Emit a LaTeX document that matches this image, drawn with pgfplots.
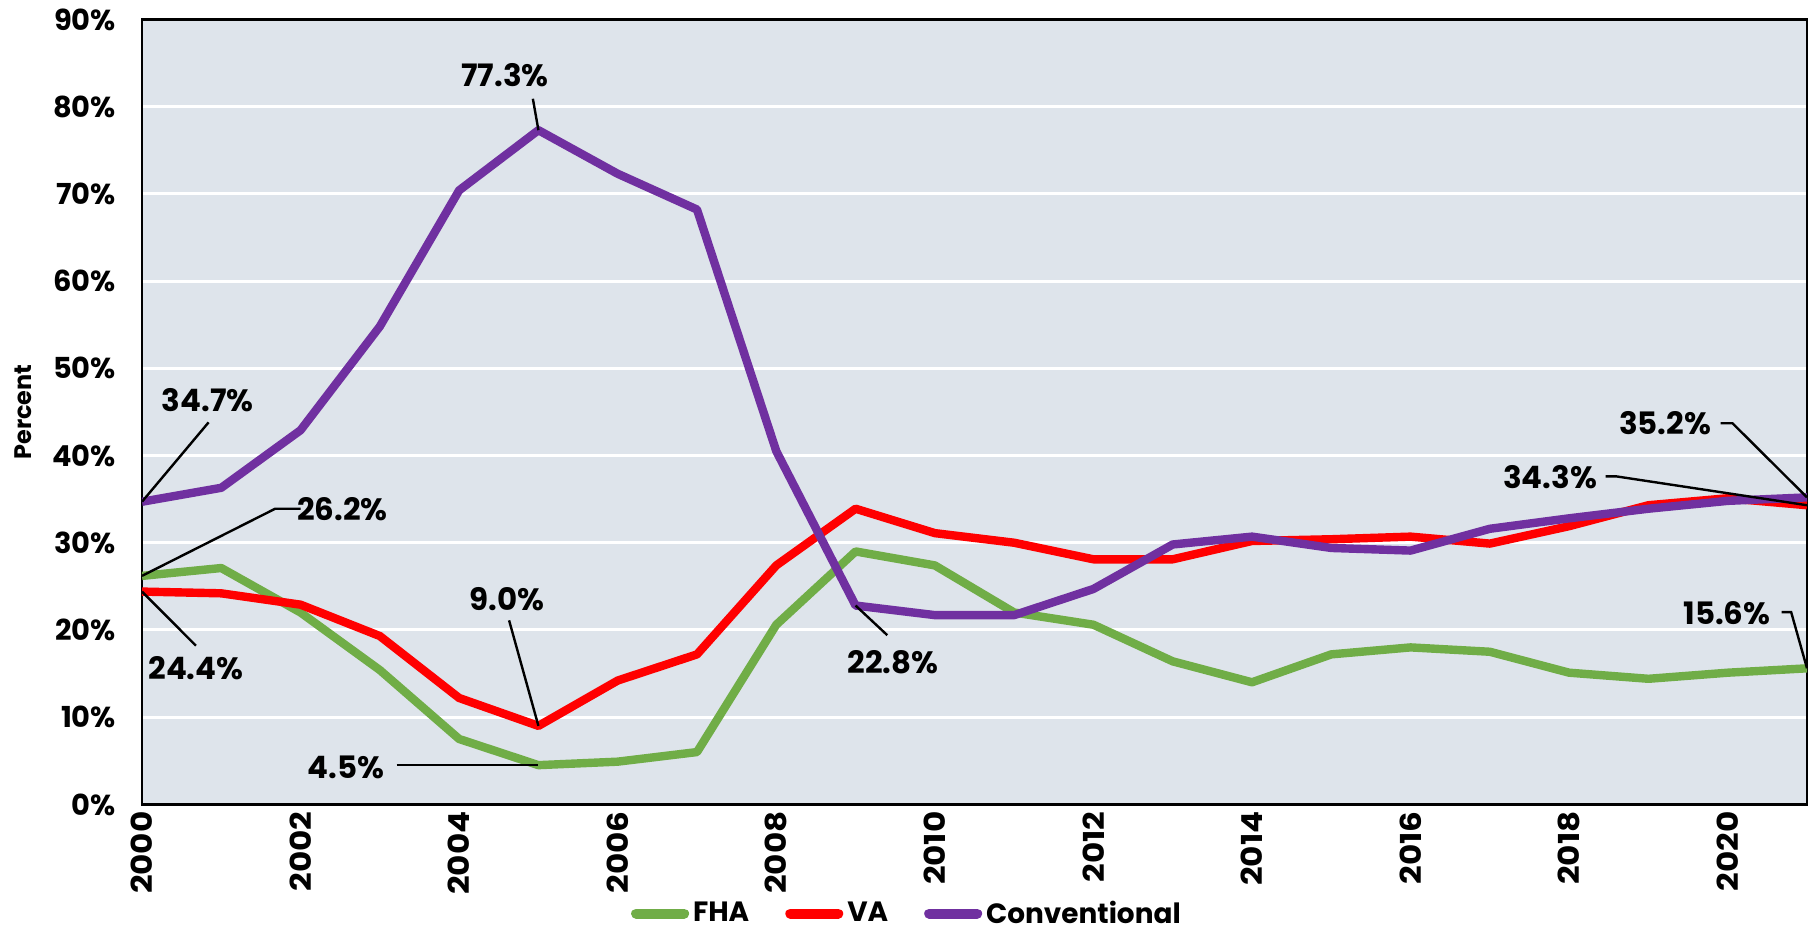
\documentclass[border=0pt]{standalone}
\usepackage{pgfplots}
\pgfplotsset{compat=1.18}
\usepackage{pgfplotstable}
\usepackage{fontspec}
\setmainfont{Poppins}
\newfontfamily\widefont[FakeStretch=1.13]{Poppins}

\definecolor{bg}{RGB}{222,228,235}
\definecolor{fha}{RGB}{112,173,71}
\definecolor{va}{RGB}{255,0,0}
\definecolor{conv}{RGB}{112,48,160}

\tikzset{
  ann/.style={font=\bfseries\fontsize{15.5}{15.5}\selectfont, inner sep=0pt},
  leader/.style={black, line width=1.2bp},
}

\pgfplotstableread{
year fha va conv
2000 26.2 24.4 34.7
2001 27.1 24.2 36.3
2002 22.0 22.9 42.9
2003 15.4 19.3 54.8
2004 7.5 12.2 70.4
2005 4.5 9.0 77.3
2006 4.9 14.2 72.3
2007 6.0 17.2 68.2
2008 20.6 27.4 40.5
2009 29.0 33.9 22.8
2010 27.4 31.1 21.7
2011 22.0 30.0 21.7
2012 20.6 28.1 24.7
2013 16.4 28.1 29.8
2014 14.0 30.2 30.7
2015 17.2 30.4 29.4
2016 18.0 30.7 29.1
2017 17.5 29.9 31.6
2018 15.1 31.9 32.8
2019 14.4 34.3 33.9
2020 15.1 35.1 34.8
2021 15.6 34.3 35.2
}\data

\begin{document}
\begin{tikzpicture}
\useasboundingbox (-71bp,-64bp) rectangle (835.5bp,402.2bp);
\begin{axis}[
  scale only axis, width=832.5bp, height=392.5bp,
  xmin=2000, xmax=2021, ymin=0, ymax=90,
  xtick={2000,2002,2004,2006,2008,2010,2012,2014,2016,2018,2020},
  xticklabels={2000,2002,2004,2006,2008,2010,2012,2014,2016,2018,2020},
  ytick={0,10,20,30,40,50,60,70,80,90},
  yticklabels={0\%,10\%,20\%,30\%,40\%,50\%,60\%,70\%,80\%,90\%},
  major tick length=0pt,
  ymajorgrids, grid style={white, line width=1.5bp},
  axis background/.style={fill=bg},
  axis line style={black, line width=1.2bp},
  tick label style={font=\bfseries\fontsize{14.5}{14.5}\selectfont},
  xticklabel style={rotate=90, anchor=east, font=\widefont\bfseries\fontsize{14.5}{14.5}\selectfont},
  yticklabel style={xshift=-9.5bp},
  ylabel={Percent},
  ylabel style={font=\bfseries\fontsize{12}{12}\selectfont, at={(axis description cs:-0.0715,0.5)}, anchor=center},
  legend style={at={(axis description cs:0.46,-0.139)}, anchor=center, draw=none, fill=none,
    legend columns=3, font=\bfseries\fontsize{14}{14}\selectfont, inner sep=1pt,
    /tikz/every even column/.append style={column sep=16bp}},
  legend image code/.code={\draw[#1, line width=5bp, line cap=round] (0bp,0bp) -- (24bp,0bp);},
]
\addplot[fha, line width=4.2bp, line join=round, mark=none] table[x=year,y=fha]{\data};
\addlegendentry{FHA}
\addplot[va, line width=4.2bp, line join=round, mark=none] table[x=year,y=va]{\data};
\addlegendentry{VA}
\addplot[conv, line width=4.2bp, line join=round, mark=none] table[x=year,y=conv]{\data};
\addlegendentry{Conventional}

\node[ann] at (axis cs:2004.58,83.6) {77.3\%};
\draw[leader] (axis cs:2004.93,80.9) -- (axis cs:2005,77.3);

\node[ann] at (axis cs:2000.83,46.3) {34.7\%};
\draw[leader] (axis cs:2000.84,43.8) -- (axis cs:2000,34.7);

\node[ann] at (axis cs:2002.53,33.8) {26.2\%};
\draw[leader] (axis cs:2002.0,33.9) -- (axis cs:2001.68,33.9) -- (axis cs:2000,26.2);

\node[ann] at (axis cs:2000.68,15.6) {24.4\%};
\draw[leader] (axis cs:2000.68,18.2) -- (axis cs:2000,24.4);

\node[ann] at (axis cs:2004.6,23.5) {9.0\%};
\draw[leader] (axis cs:2004.63,21.1) -- (axis cs:2005,9.0);

\node[ann] at (axis cs:2002.57,4.3) {4.5\%};
\draw[leader] (axis cs:2003.21,4.5) -- (axis cs:2005,4.5);

\node[ann] at (axis cs:2009.47,16.35) {22.8\%};
\draw[leader] (axis cs:2009.4,19.4) -- (axis cs:2009,22.8);

\node[ann] at (axis cs:2019.21,43.66) {35.2\%};
\draw[leader] (axis cs:2019.91,43.7) -- (axis cs:2020.06,43.7) -- (axis cs:2021,35.2);

\node[ann] at (axis cs:2017.76,37.47) {34.3\%};
\draw[leader] (axis cs:2018.46,37.6) -- (axis cs:2018.6,37.6) -- (axis cs:2021,34.3);

\node[ann] at (axis cs:2019.99,21.87) {15.6\%};
\draw[leader] (axis cs:2020.68,22.05) -- (axis cs:2020.8,22.05) -- (axis cs:2021,15.6);
\end{axis}
\end{tikzpicture}
\end{document}
